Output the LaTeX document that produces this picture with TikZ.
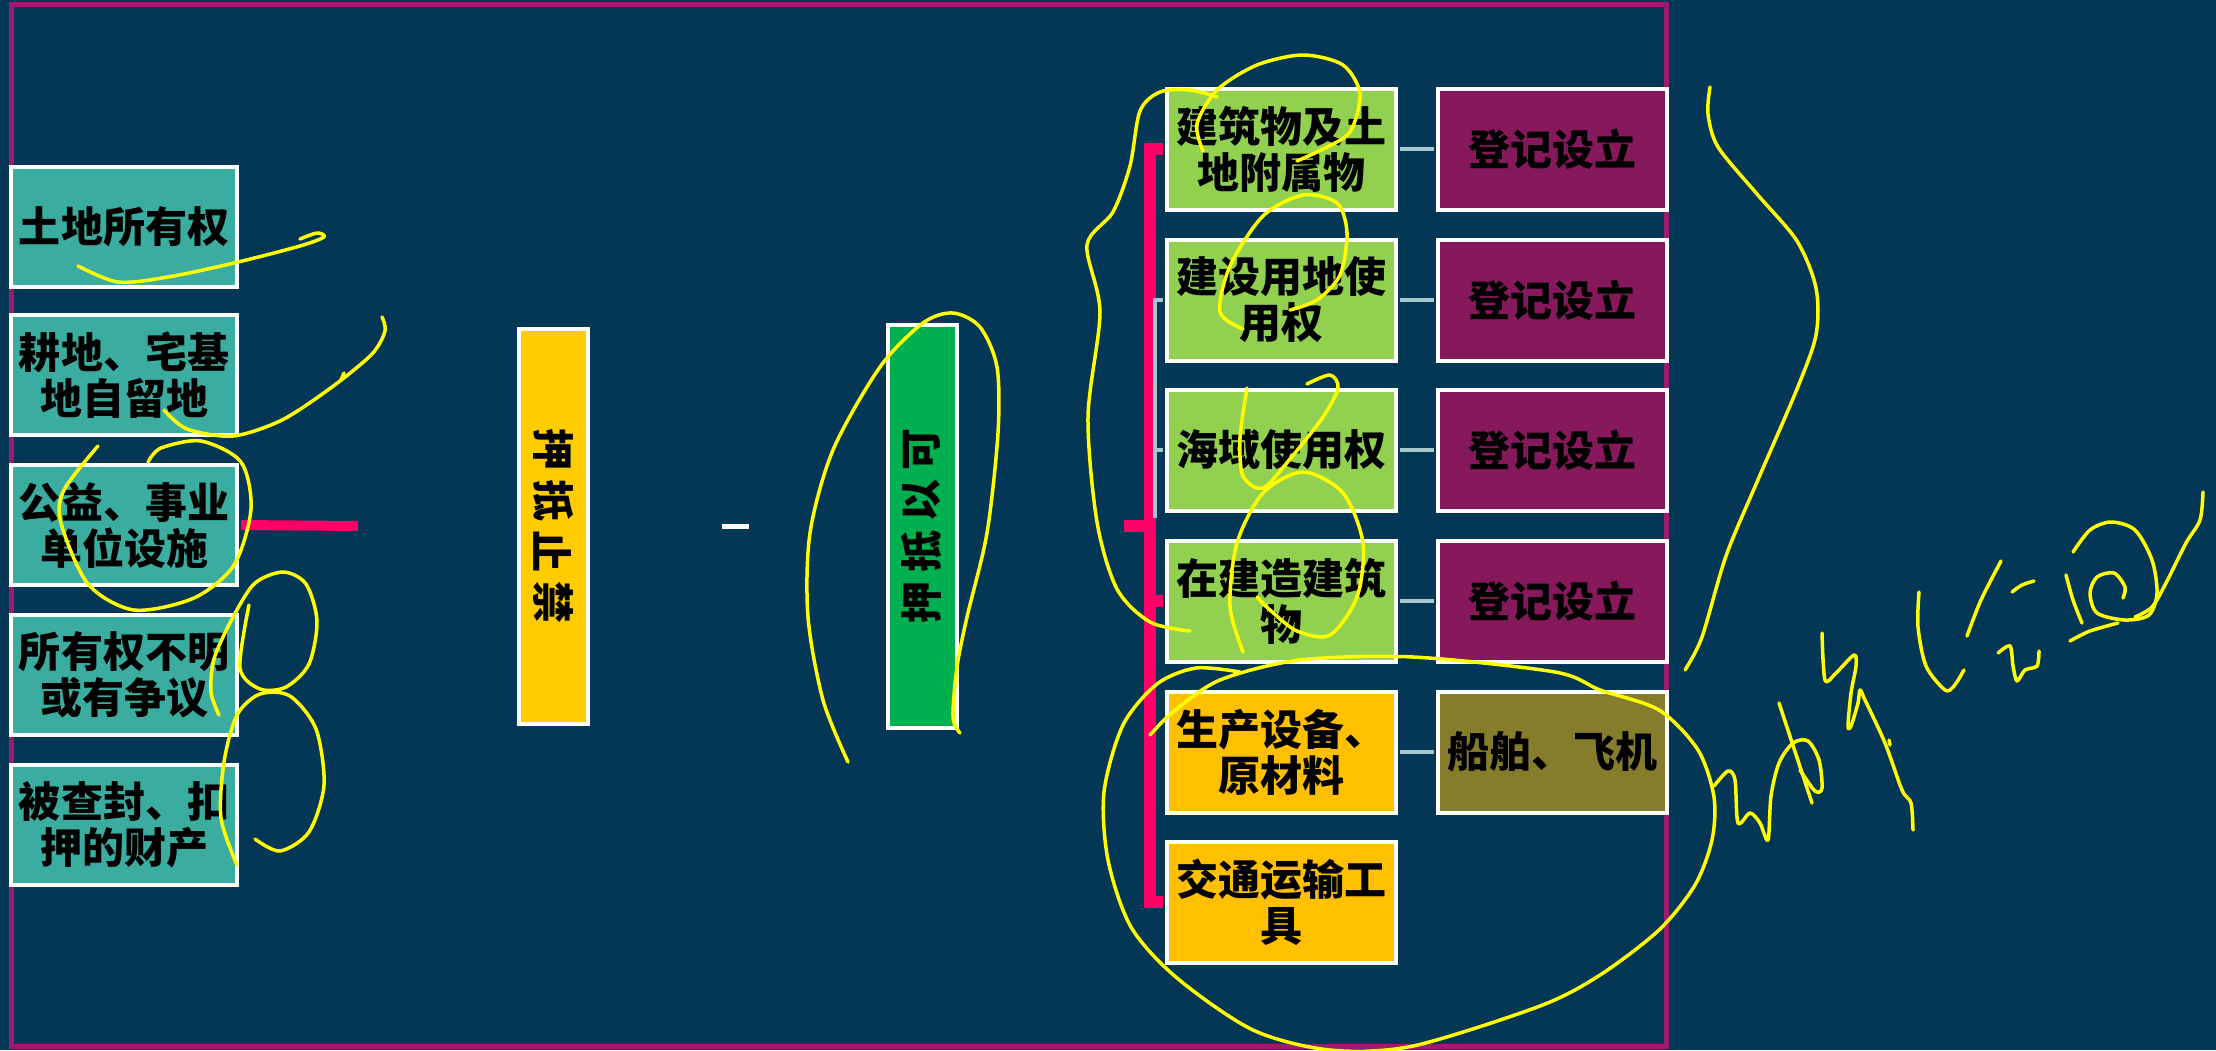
\documentclass[tikz,border=0pt]{standalone}
\usepackage{fontspec}
\usepackage{graphicx}
\newfontfamily\cjk{Noto Sans CJK SC}
\usepackage{tikz}
\usetikzlibrary{positioning}
\definecolor{bg}{HTML}{043656}
\definecolor{framepurple}{HTML}{9B1B6E}
\definecolor{teal}{HTML}{3AADA0}
\definecolor{banyellow}{HTML}{FFCC00}
\definecolor{okgreen}{HTML}{00B050}
\definecolor{lightgreen}{HTML}{92D050}
\definecolor{orange}{HTML}{FFC000}
\definecolor{regpurple}{HTML}{86195C}
\definecolor{olive}{HTML}{857D2C}
\definecolor{hotpink}{HTML}{FF0066}
\definecolor{greyblue}{HTML}{A7C7CE}
\definecolor{ink}{HTML}{FFFF00}
\newcommand{\cwchar}[1]{\rotatebox{-90}{#1}}
\newcommand{\ccwchar}[1]{\rotatebox{90}{#1}}

\begin{document}
\begin{tikzpicture}[x=1pt,y=-1pt,
    boxtext/.style={font=\cjk\bfseries\fontsize{42pt}{46pt}\selectfont,text=black,align=center,inner sep=0pt},
    leftbox/.style={boxtext,draw=white,line width=4pt,fill=teal,minimum width=226pt,minimum height=120pt},
    rbox/.style={boxtext,draw=white,line width=4pt,minimum width=229pt,minimum height=121pt},
    vbox/.style={boxtext,font=\cjk\bfseries\fontsize{42pt}{51pt}\selectfont,draw=white,line width=4pt,minimum width=69pt},
    pinkline/.style={draw=hotpink,line width=12pt},
    greyline/.style={draw=greyblue,line width=4pt,shorten <=2pt},
    scribble/.style={draw=ink,line width=3.5pt,line cap=round,line join=round}]
    \fill[bg] (0,0) rectangle (2216,1050);
    \useasboundingbox (0,0) rectangle (2216,1050);
    \draw[framepurple,line width=5pt] (11,4) rectangle (1666,1046);

    \node[leftbox] (own) at (124,227) {土地所有权};
    \node[leftbox] (farm) at (124,375) {耕地、宅基\\地自留地};
    \node[leftbox] (pub) at (124,525) {公益、事业\\单位设施};
    \node[leftbox] (dispute) at (124,675) {所有权不明\\或有争议};
    \node[leftbox] (seized) at (124,825) {被查封、扣\\押的财产};

    \node[vbox,fill=banyellow,minimum height=395pt] (ban) at (553,526) {\cwchar{押}\\\cwchar{抵}\\\cwchar{止}\\\cwchar{禁}};
    \node[vbox,fill=okgreen,minimum height=403pt] (ok) at (922,526) {\ccwchar{可}\\\ccwchar{以}\\\ccwchar{抵}\\\ccwchar{押}};

    \node[rbox,fill=lightgreen] (bld) at (1281,149) {建筑物及土\\地附属物};
    \node[rbox,fill=lightgreen] (land) at (1281,300) {建设用地使\\用权};
    \node[rbox,fill=lightgreen] (sea) at (1281,450) {海域使用权};
    \node[rbox,fill=lightgreen] (wip) at (1281,601) {在建造建筑\\物};
    \node[rbox,fill=orange] (equip) at (1281,752) {生产设备、\\原材料};
    \node[rbox,fill=orange] (vehicle) at (1281,902) {交通运输工\\具};
    \foreach \y/\n in {149/reg1,300/reg2,450/reg3,601/reg4}{
        \node[rbox,fill=regpurple] (\n) at (1552,\y) {登记设立};
    }
    \node[rbox,fill=olive] (ship) at (1552,752) {船舶、飞机};

    \coordinate (lstub) at (358,526);
    \draw[pinkline,line width=10pt,shorten <=2pt] (pub.east) -- (lstub);
    \coordinate (dashl) at (722,526);
    \coordinate (dashr) at (749,526);
    \draw[white,line width=5pt] (dashl) -- (dashr);

    \coordinate (rstub) at (1124,526);
    \draw[pinkline,shorten <=2pt,shorten >=2pt] (bld.west) -- ++(-15,0) |- (vehicle.west);
    \draw[pinkline,shorten <=2pt] (wip.west) -- ++(-15,0);
    \draw[pinkline] (rstub) -- ++(27,0);
    \draw[greyline] (land.west) -- ++(-10,0) -- ++(0,218);
    \draw[greyline] (sea.west) -- ++(-10,0);
    \foreach \a/\b in {bld/reg1,land/reg2,sea/reg3,wip/reg4,equip/ship}{
        \draw[greyline,shorten >=2pt] (\a.east) -- (\b.west);
    }

    \draw[scribble] plot[smooth] coordinates {(78,266) (118,282) (168,277) (234,263) (300,246) (324,237) (317,233) (300,239)};
    \draw[scribble] plot[smooth] coordinates {(164,410) (187,429) (233,436) (282,420) (332,387) (372,354) (385,331) (382,317)};
    \draw[scribble] (344,373) -- (341,380);
    \draw[scribble] plot[smooth] coordinates {(98,446) (64,490) (61,523) (88,584) (134,610) (194,598) (234,565) (251,509) (241,462) (201,441) (161,448) (148,462)};
    \draw[scribble] plot[smooth] coordinates {(249,605) (240,668) (260,689) (286,687) (309,664) (317,621) (306,584) (283,572) (254,584) (231,621) (214,659) (211,692) (219,715)};
    \draw[scribble] plot[smooth] coordinates {(255,839) (280,851) (309,832) (324,785) (316,729) (290,696) (260,694) (237,715) (224,762) (221,818) (237,865)};
    \draw[scribble] plot[smooth] coordinates {(848,762) (823,700) (808,617) (810,533) (833,450) (880,367) (923,323) (953,313) (980,327) (997,367) (998,433) (987,533) (967,617) (957,667) (953,717) (960,733)};
    \draw[scribble] plot[smooth] coordinates {(1190,631) (1150,622) (1117,589) (1097,522) (1088,417) (1100,312) (1087,245) (1113,212) (1130,166) (1140,111) (1160,92) (1190,90) (1217,97)};
    \draw[scribble] plot[smooth] coordinates {(1203,151) (1197,124) (1217,90) (1257,65) (1303,55) (1343,65) (1360,94) (1350,132) (1323,149) (1297,161)};
    \draw[scribble] plot[smooth] coordinates {(1243,329) (1220,312) (1230,266) (1263,216) (1303,195) (1337,203) (1347,233) (1340,275) (1317,300) (1290,310)};
    \draw[scribble] plot[smooth] coordinates {(1247,388) (1240,438) (1243,476) (1263,488) (1290,459) (1323,417) (1338,388) (1330,375) (1307,384)};
    \draw[scribble] plot[smooth] coordinates {(1243,652) (1230,606) (1237,543) (1263,493) (1303,472) (1343,493) (1363,543) (1357,597) (1330,635) (1297,631) (1270,610) (1257,597)};
    \draw[scribble] plot[smooth] coordinates {(1240,672) (1196,668) (1157,684) (1123,725) (1104,792) (1108,860) (1131,927) (1177,978) (1253,1030) (1330,1050) (1413,1046) (1540,1006) (1600,975) (1659,930) (1695,885) (1712,840) (1714,797) (1698,750) (1659,710) (1600,690) (1555,672) (1413,657) (1300,660) (1220,680) (1173,712) (1150,735)};
    \draw[scribble] plot[smooth] coordinates {(1710,87) (1708,114) (1718,147) (1757,194) (1797,241) (1816,288) (1816,335) (1797,389) (1757,482) (1726,556) (1702,637) (1685,670)};
    \draw[scribble] plot[smooth] coordinates {(1714,786) (1728,771) (1735,780) (1738,823) (1750,813) (1760,823) (1768,840) (1771,796) (1779,763) (1793,743) (1808,741) (1819,760) (1822,788) (1815,791) (1800,770)};
    \draw[scribble] (1779,703) -- (1812,803);
    \draw[scribble] plot[smooth] coordinates {(1822,633) (1825,680) (1836,673) (1854,655) (1856,666) (1851,693) (1848,726) (1851,726) (1858,703) (1860,690) (1865,700) (1885,743) (1902,790) (1911,803) (1913,830)};
    \draw[scribble] (1889,740) -- (1890,745);
    \draw[scribble] plot[smooth] coordinates {(1919,592) (1918,627) (1926,666) (1945,690) (1954,686) (1964,670)};
    \draw[scribble] plot[smooth] coordinates {(1967,636) (1981,600) (2001,561)};
    \draw[scribble] plot[smooth] coordinates {(2012,592) (2022,585) (2034,581)};
    \draw[scribble] plot[smooth] coordinates {(1998,653) (2010,646) (2013,666) (2017,681) (2025,670) (2037,666) (2039,651)};
    \draw[scribble] plot[smooth] coordinates {(2066,575) (2073,600) (2082,623)};
    \draw[scribble] plot[smooth] coordinates {(2073,552) (2090,530) (2111,522) (2135,530) (2152,560) (2157,593) (2149,615) (2125,620) (2097,613) (2090,593) (2097,577) (2114,573) (2125,587) (2123,598)};
    \draw[scribble] plot[smooth] coordinates {(2070,641) (2090,631) (2118,623)};
    \draw[scribble] plot[smooth] coordinates {(2203,492) (2200,520) (2186,543) (2166,583) (2152,607) (2135,617)};
\end{tikzpicture}
\end{document}
